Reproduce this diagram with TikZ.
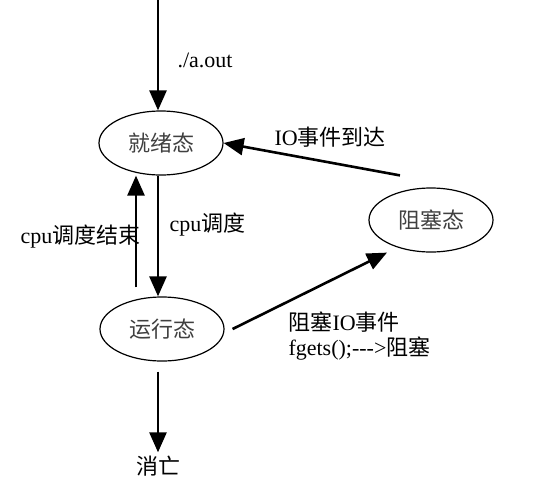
\documentclass[tikz,border=0pt]{standalone}
\usepackage{fontspec}
\setmainfont{Liberation Serif}
\newfontfamily\cjk{Noto Sans CJK SC}
\usetikzlibrary{arrows.meta,shapes.geometric}

\begin{document}
\begin{tikzpicture}[x=1pt, y=-1pt, every node/.style={font=\fontsize{22}{25}\selectfont}, state/.style={ellipse, draw, line width=1.2pt, minimum width=124pt, minimum height=64pt, inner sep=0pt, text=black!75}, flow/.style={line width=2.6pt, -{Triangle[length=20pt,width=17pt]}}]
	\useasboundingbox (0,0) rectangle (536,493);
	\node[state] (ready) at (161,143) {\cjk 就绪态};
	\node[state] (run) at (162,329) {\cjk 运行态};
	\node[state] (block) at (431,220) {\cjk 阻塞态};
	\coordinate (start) at (158,0);
	\node (dead) at (158,466) {\cjk 消亡};
	\draw[flow] (start) -- (start |- ready.north);
	\draw[flow] ([xshift=-3pt]ready.south) -- ([xshift=-4pt]run.north);
	\draw[flow] ([xshift=-26pt,yshift=9pt]run.north) -- ([xshift=-25pt]ready.south);
	\draw[flow] ([xshift=-31pt,yshift=12pt]block.north) -- (ready.east);
	\draw[flow] ([xshift=8pt]run.east) -- ([xshift=-44pt]block.south);
	\draw[flow] ([xshift=-4pt,yshift=-10pt]run.south) -- (dead.north);
	\node[anchor=west] (aout) at (174,60) {./a.out};
	\node[anchor=west] (arrive) at (271,137) {IO{\cjk 事件到达}};
	\node[anchor=west] (sched) at (166,225) {cpu{\cjk 调度}};
	\node[anchor=east] (unsched) at (144,237) {cpu{\cjk 调度结束}};
	\node[anchor=west, align=left] (wait) at (285,336) {{\cjk 阻塞}IO{\cjk 事件}\\fgets();{-}{-}{-}>{\cjk 阻塞}};
\end{tikzpicture}
\end{document}
